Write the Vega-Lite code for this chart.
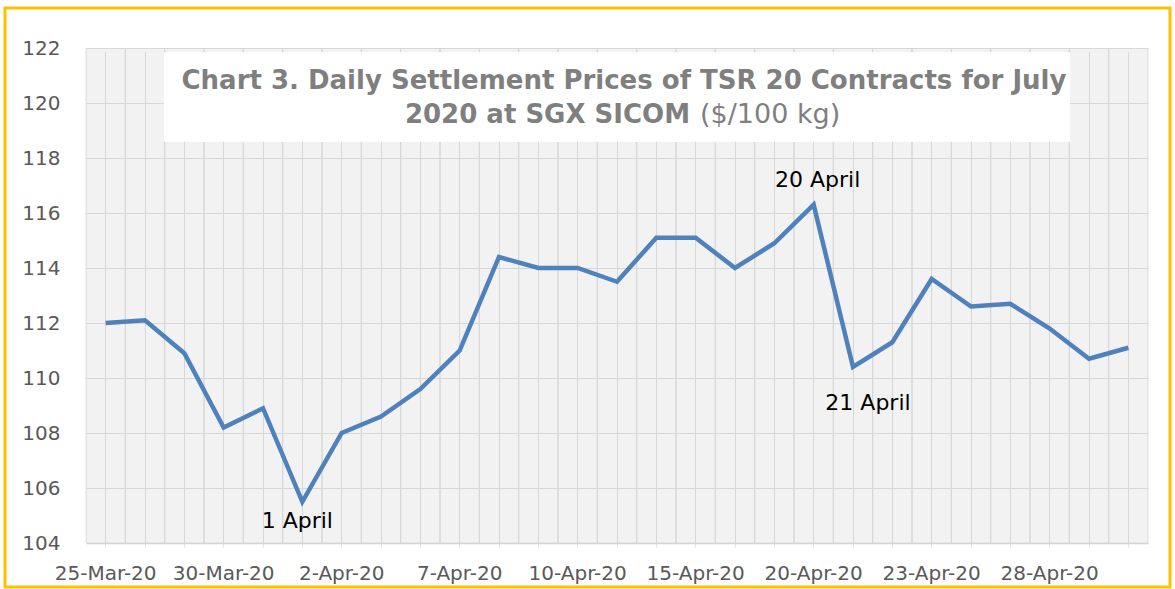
{
  "$schema": "https://vega.github.io/schema/vega-lite/v6.json",
  "width": 1165,
  "height": 579,
  "autosize": {"type": "none"},
  "padding": {"left": 5, "top": 8, "right": 5, "bottom": 2},
  "background": "white",
  "config": {
    "view": {"stroke": "#FFC000", "strokeWidth": 3, "fill": "white"},
    "font": "DejaVu Sans"
  },
  "data": {
    "values": [
      {"date": "25-Mar-20", "price": 112.0, "note": ""},
      {"date": "26-Mar-20", "price": 112.1, "note": ""},
      {"date": "27-Mar-20", "price": 110.9, "note": ""},
      {"date": "30-Mar-20", "price": 108.2, "note": ""},
      {"date": "31-Mar-20", "price": 108.9, "note": ""},
      {"date": "1-Apr-20", "price": 105.5, "note": "1 April"},
      {"date": "2-Apr-20", "price": 108.0, "note": ""},
      {"date": "3-Apr-20", "price": 108.6, "note": ""},
      {"date": "6-Apr-20", "price": 109.6, "note": ""},
      {"date": "7-Apr-20", "price": 111.0, "note": ""},
      {"date": "8-Apr-20", "price": 114.4, "note": ""},
      {"date": "9-Apr-20", "price": 114.0, "note": ""},
      {"date": "10-Apr-20", "price": 114.0, "note": ""},
      {"date": "13-Apr-20", "price": 113.5, "note": ""},
      {"date": "14-Apr-20", "price": 115.1, "note": ""},
      {"date": "15-Apr-20", "price": 115.1, "note": ""},
      {"date": "16-Apr-20", "price": 114.0, "note": ""},
      {"date": "17-Apr-20", "price": 114.9, "note": ""},
      {"date": "20-Apr-20", "price": 116.3, "note": "20 April"},
      {"date": "21-Apr-20", "price": 110.4, "note": "21 April"},
      {"date": "22-Apr-20", "price": 111.3, "note": ""},
      {"date": "23-Apr-20", "price": 113.6, "note": ""},
      {"date": "24-Apr-20", "price": 112.6, "note": ""},
      {"date": "27-Apr-20", "price": 112.7, "note": ""},
      {"date": "28-Apr-20", "price": 111.8, "note": ""},
      {"date": "29-Apr-20", "price": 110.7, "note": ""},
      {"date": "30-Apr-20", "price": 111.1, "note": ""}
    ]
  },
  "encoding": {
    "x": {
      "field": "date",
      "type": "ordinal",
      "sort": null,
      "scale": {"range": [81, 1143], "paddingInner": 0, "paddingOuter": 0},
      "axis": {
        "title": null,
        "grid": true,
        "gridColor": "#e3e3e3",
        "gridWidth": 1,
        "ticks": false,
        "domain": true,
        "domainColor": "#d4d4d4",
        "domainWidth": 1.5,
        "labelAngle": 0,
        "labelFont": "DejaVu Sans",
        "labelFontSize": 20,
        "labelColor": "#595959",
        "labelPadding": 20,
        "labelOverlap": false,
        "labelExpr": "round(datum.index * 26) % 3 == 0 ? datum.label : ''",
        "offset": -44
      }
    },
    "y": {
      "field": "price",
      "type": "quantitative",
      "scale": {"domain": [104, 122], "range": [535, 40], "nice": false, "zero": false},
      "axis": {
        "title": null,
        "values": [104, 106, 108, 110, 112, 114, 116, 118, 120, 122],
        "grid": true,
        "gridColor": "#e3e3e3",
        "gridWidth": 1,
        "ticks": false,
        "domain": false,
        "labelFont": "DejaVu Sans",
        "labelFontSize": 20,
        "labelColor": "#595959",
        "labelPadding": 0,
        "offset": -55
      }
    }
  },
  "layer": [
    {
      "mark": {"type": "rule", "color": "#e3e3e3", "strokeWidth": 1},
      "encoding": {
        "x": {"field": "date", "type": "ordinal", "sort": null, "bandPosition": 0},
        "y": {"datum": 104},
        "y2": {"datum": 122}
      }
    },
    {
      "mark": {"type": "rule", "color": "#e3e3e3", "strokeWidth": 1},
      "encoding": {
        "x": {"field": "date", "type": "ordinal", "sort": null, "bandPosition": 1},
        "y": {"datum": 104},
        "y2": {"datum": 122}
      }
    },
    {
      "mark": {"type": "bar", "color": "#000000", "opacity": 0.05},
      "encoding": {
        "y": {"datum": 104},
        "y2": {"datum": 122}
      }
    },
    {
      "transform": [
        {"window": [{"op": "row_number", "as": "n"}]},
        {"filter": "datum.n >= 3 && datum.n <= 25"}
      ],
      "mark": {"type": "bar", "color": "white", "stroke": "white", "strokeWidth": 1.5, "opacity": 1},
      "encoding": {
        "y": {"datum": 118.62},
        "y2": {"datum": 121.82}
      }
    },
    {
      "transform": [{"filter": "datum.date == '13-Apr-20'"}],
      "mark": {"type": "text", "font": "DejaVu Sans", "fontWeight": "bold", "fontSize": 26, "color": "#7f7f7f", "align": "center", "baseline": "alphabetic", "dx": 7},
      "encoding": {
        "y": {"datum": 120.51},
        "text": {"value": "Chart 3. Daily Settlement Prices of TSR 20 Contracts for July"}
      }
    },
    {
      "transform": [{"filter": "datum.date == '13-Apr-20'"}],
      "mark": {"type": "text", "font": "DejaVu Sans", "fontWeight": "bold", "fontSize": 26, "color": "#7f7f7f", "align": "right", "baseline": "alphabetic", "dx": 73},
      "encoding": {
        "y": {"datum": 119.27},
        "text": {"value": "2020 at SGX SICOM"}
      }
    },
    {
      "transform": [{"filter": "datum.date == '13-Apr-20'"}],
      "mark": {"type": "text", "font": "DejaVu Sans", "fontWeight": "normal", "fontSize": 27, "color": "#7f7f7f", "align": "left", "baseline": "alphabetic", "dx": 83},
      "encoding": {
        "y": {"datum": 119.27},
        "text": {"value": "($/100 kg)"}
      }
    },
    {
      "mark": {"type": "line", "color": "#4F81BD", "strokeWidth": 4.5}
    },
    {
      "transform": [{"filter": "datum.note == '1 April'"}],
      "mark": {"type": "text", "font": "DejaVu Sans", "fontSize": 22, "color": "#000000", "align": "center", "baseline": "middle", "dx": -5, "dy": 19},
      "encoding": {"text": {"field": "note"}}
    },
    {
      "transform": [{"filter": "datum.note == '20 April'"}],
      "mark": {"type": "text", "font": "DejaVu Sans", "fontSize": 22, "color": "#000000", "align": "center", "baseline": "middle", "dx": 4, "dy": -25},
      "encoding": {"text": {"field": "note"}}
    },
    {
      "transform": [{"filter": "datum.note == '21 April'"}],
      "mark": {"type": "text", "font": "DejaVu Sans", "fontSize": 22, "color": "#000000", "align": "center", "baseline": "middle", "dx": 15, "dy": 36},
      "encoding": {"text": {"field": "note"}}
    }
  ]
}
